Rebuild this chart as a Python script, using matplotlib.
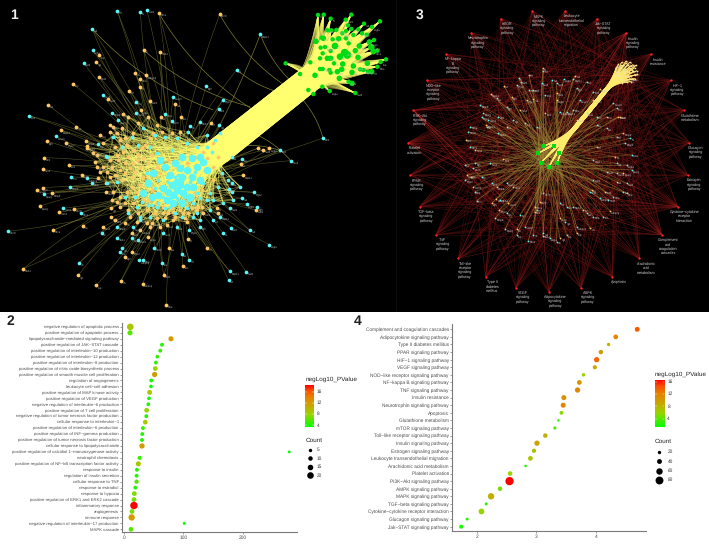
import numpy as np
import matplotlib
matplotlib.use("Agg")
import matplotlib.pyplot as plt
from matplotlib.collections import LineCollection
from matplotlib.colors import LinearSegmentedColormap

plt.rcParams['font.family'] = ['Liberation Sans', 'DejaVu Sans']
plt.rcParams['text.hinting'] = 'no_hinting'
W, H = 709, 549

# ---------------- Panel 2 data ----------------
bp_terms = ["negative regulation of apoptotic process", "positive regulation of apoptotic process",
 "lipopolysaccharide\u2212mediated signaling pathway", "positive regulation of JAK\u2212STAT cascade",
 "positive regulation of interleukin\u221210 production", "positive regulation of interleukin\u221212 production",
 "positive regulation of interleukin\u22128 production", "positive regulation of nitric oxide biosynthetic process",
 "positive regulation of smooth muscle cell proliferation", "regulation of angiogenesis",
 "leukocyte cell\u2212cell adhesion", "positive regulation of MAP kinase activity",
 "positive regulation of VEGF production", "negative regulation of interleukin\u22126 production",
 "positive regulation of T cell proliferation", "negative regulation of tumor necrosis factor production",
 "cellular response to interleukin\u22121", "positive regulation of interleukin\u22126 production",
 "positive regulation of INF\u2212gamma production", "positive regulation of tumor necrosis factor production",
 "cellular response to lipopolysaccharide", "positive regulation of calcidiol 1\u2212monooxygenase activity",
 "neutrophil chemotaxis", "positive regulation of NF\u2212kB transcription factor activity",
 "response to insulin", "regulation of insulin secretion", "cellular response to TNF", "response to estradiol",
 "response to hypoxia", "positive regulation of ERK1 and ERK2 cascade", "inflammatory response", "angiogenesis",
 "immune response", "negative regulation of interleukin\u221217 production", "MAPK cascade"]
bp_enrich = [10.1,9.6,78.9,63.7,60.8,55.8,53.5,52.4,51.3,45.6,45.1,42.8,41.7,40.6,37.7,37.2,35.5,31.5,30.4,29.9,
             29.9,278.9,25.9,23.7,21.4,20.8,20.8,18.6,16.9,16.3,16.3,13,12.4,101.4,11.3]
bp_count = [20,13,13,7,7,6,7,11,14,7,6,12,6,6,11,7,11,7,7,7,14,2,8,13,7,7,9,7,11,11,24,11,19,3,11]
bp_logp = [9,6,12,4.5,5,5,5,8,12,4.5,4,9,4,4,8,4.5,9,5,4.5,4.5,12,3.5,5,9,4.5,4.5,6,4.5,7,7,18.5,7,12,3.7,6]

# ---------------- Panel 4 data ----------------
kegg_terms = ["Complement and coagulation cascades","Adipocytokine signaling pathway","Type II diabetes mellitus",
 "PPAR signaling pathway","HIF\u22121 signaling pathway","VEGF signaling pathway","NOD\u2212like receptor signaling pathway",
 "NF\u2212kappa B signaling pathway","TNF signaling pathway","Insulin resistance","Neurotrophin signaling pathway",
 "Apoptosis","Glutathione metabolism","mTOR signaling pathway","Toll\u2212like receptor signaling pathway",
 "Insulin signaling pathway","Estrogen signaling pathway","Leukocyte transendothelial migration",
 "Arachidonic acid metabolism","Platelet activation","PI3K\u2212Akt signaling pathway","AMPK signaling pathway",
 "MAPK signaling pathway","TGF\u2212beta signaling pathway","Cytokine\u2212cytokine receptor interaction",
 "Glucagon signaling pathway","Jak\u2212STAT signaling pathway"]
kegg_enrich = [4.69,4.33,4.21,4.08,4.01,3.98,3.79,3.72,3.69,3.46,3.45,3.42,3.37,3.31,3.15,3.01,2.96,2.90,2.82,2.56,
               2.55,2.39,2.24,2.16,2.08,1.84,1.74]
kegg_count = [40,38,20,34,45,30,22,38,45,42,42,25,8,18,35,45,32,38,10,36,85,35,60,15,52,14,28]
kegg_logp = [14,12,8,10,13.5,9,6,11,12,11,12,5.5,3,4,8.5,9.5,7,7,2.5,6,17,5,8.5,3,6,2.5,2]

# ---------------- Networks: positions, in units of 1/3 pixel ----------------
net1_cyan_outer = [(352,34),(421,37),(441,31),(276,86),(278,151),(251,189),(781,103),(710,209),(618,258),(669,299),
 (656,328),(308,286),(87,347),(168,409),(214,530),(209,560),(132,583),(189,625),(242,640),(25,694),(305,700),(351,714),
 (367,745),(361,755),(236,790),(418,780),(430,781),(463,744),(487,788),(545,761),(568,781),(668,698),(692,683),(750,691),
 (808,734),(739,816),(689,813),(686,841),(772,622),(762,577),(969,414),(872,482),(839,451),(520,290),(408,306),(337,338),
 (355,360),(408,340),(495,343),(515,362),(570,378),(600,367),(657,375),(295,432),(318,467),(262,535),(275,550),(322,548),
 (725,478),(695,470),(683,540),(697,550),(686,568),(725,595),(740,612),(690,625),(660,650),(640,660),(600,680),(568,690),
 (530,680),(490,698),(420,660),(400,682),(385,640),(350,680),(395,715),(415,720)]
net1_orange_outer = [(477,40),(659,43),(431,150),(481,157),(289,186),(297,166),(406,219),(438,225),(419,238),(297,230),
 (220,253),(144,314),(388,273),(420,262),(450,303),(526,312),(422,330),(325,297),(183,391),(228,380),(142,424),(197,430),
 (132,473),(128,508),(207,496),(112,569),(128,563),(155,580),(120,618),(177,637),(160,691),(222,627),(249,677),(70,806),
 (235,826),(289,856),(363,843),(428,851),(499,914),(491,826),(548,797),(507,744),(622,743),(565,717),(768,630),(775,444),
 (808,445),(790,451),(730,525),(722,493),(375,770),(395,755),(345,660),(310,680),(370,343),(331,375),(300,405),(258,423),
 (262,438),(280,460),(290,500),(245,525),(293,535),(318,575),(333,625),(333,652),(375,668),(420,690),(455,670),(500,675),
 (543,352),(482,352),(632,368),(650,625),(610,640),(655,640),(445,712),(395,700),(350,605)]
net1_cyan_core = [(530,570),(540,555),(520,585),(550,580),(505,575),(545,530),(530,545),(515,555),(560,560),(570,590),
 (500,600),(520,610),(545,610),(490,565),(475,585),(510,525),(540,505),(560,510),(575,530),(590,500),(600,470),(575,475),
 (545,470),(525,490),(495,500),(480,480),(460,520),(445,550),(430,580),(455,590),(580,560),(600,540),(620,510),(610,485),
 (635,455),(620,440),(590,440),(560,430),(530,415),(495,410),(465,405),(430,385),(415,435),(395,410),(450,440),(515,450),
 (565,395),(620,405),(645,420),(660,400),(580,610),(600,595),(620,600),(560,625),(525,640),(495,625),(470,620),(445,615),
 (425,605),(405,590),(450,650),(490,660),(545,650),(590,640),(630,580),(655,560),(665,520),(695,575),(500,530),(475,540),
 (535,525),(555,590),(510,595),(530,595),(505,545),(585,515),(545,545),(525,530),(570,545),(490,590),(440,520),(470,460),
 (340,410),(365,440),(320,470),(350,545),(375,590),(535,600),(565,600),(510,620),(455,615),(465,565),(475,610),(590,580),
 (610,550),(640,600),(670,610),(410,620),(420,650),(580,650),(600,660),(630,630),(700,600),(720,560)]
net1_orange_core = [(385,470),(400,490),(370,455),(345,440),(330,480),(310,500),(360,510),(395,530),(420,500),(445,490),
 (415,465),(455,465),(435,435),(460,400),(485,395),(515,400),(340,380),(375,415),(310,430),(290,465),(285,485),(330,530),
 (365,540),(340,575),(380,575),(420,555),(430,530),(470,500),(400,610),(415,640),(440,630),(465,640),(490,640),(515,625),
 (540,630),(565,640),(595,620),(470,610),(455,570),(480,520),(505,480),(560,490),(585,470),(610,455),(640,500),(655,470),
 (640,540),(605,570),(585,580),(605,620),(520,660),(480,680),(440,670),(560,665),(385,630),(360,620),(385,350),(415,370),
 (445,350),(470,375),(540,395),(365,385),(400,400),(300,515),(260,445),(318,550),(355,480),(450,415),(640,430),(620,475),
 (375,490),(390,505),(410,480),(430,475),(350,465),(335,500),(320,515),(345,525),(375,520),(405,515),(425,445),(400,450),
 (380,435),(360,420),(330,395),(350,400),(395,560),(410,575),(360,590),(335,600),(375,610),(430,600),(445,600),(505,640),
 (525,650),(550,640),(575,625),(470,655),(495,655),(450,680),(410,665),(390,650),(490,620),(520,635),(590,630),(555,655)]
net1_green = [(84,45),(101,44),(122,56),(184,44),(167,59),(174,76),(222,71),(270,64),(246,81),(205,88),(112,91),(124,91),
 (139,90),(168,93),(184,87),(230,104),(157,100),(190,105),(216,100),(78,124),(95,113),(100,115),(128,118),(146,116),
 (168,115),(252,120),(238,126),(176,130),(135,138),(92,143),(105,141),(122,153),(208,138),(196,152),(244,142),(262,152),
 (250,155),(98,160),(164,158),(172,165),(150,170),(90,175),(112,175),(122,175),(204,172),(288,178),(272,186),(61,187),
 (132,190),(158,192),(190,198),(232,190),(262,200),(90,207),(98,207),(118,210),(142,215),(155,208),(186,217),(210,208),
 (245,215),(30,222),(75,226),(148,235),(176,245),(186,250),(97,260),(55,270),(119,273),(70,282),(196,279),(122,218),
 (220,210),(234,216),(-13,190)]
net1_green_size = [4,4,4,4,4,4,4,4,4,4,4,4,4,4,4,4,4,4,4,5,4,5,4,5,4,4,5,4,6,4,4,4,5,5,6,4,5,4,7,7,6,4,5,5,5,4,4,4,4,5,5,5,4,4,4,4,5,5,5,4,5,4,5,5,4,5,4,4,4,4,4,4,4,4,4]

net3_pathways = ["MAPK\nsignaling\npathway","Leukocyte\ntransendothelial\nmigration","Jak\u2212STAT\nsignaling\npathway",
 "Insulin\nsignaling\npathway","Insulin\nresistance","HIF\u22121\nsignaling\npathway","Glutathione\nmetabolism",
 "Glucagon\nsignaling\npathway","Estrogen\nsignaling\npathway","Cytokine\u2212cytokine\nreceptor\ninteraction",
 "Complement\nand\ncoagulation\ncascades","Arachidonic\nacid\nmetabolism","Apoptosis","AMPK\nsignaling\npathway",
 "Adipocytokine\nsignaling\npathway","VEGF\nsignaling\npathway","Type II\ndiabetes\nmellitus",
 "Toll\u2212like\nreceptor\nsignaling\npathway","TNF\nsignaling\npathway","TGF\u2212beta\nsignaling\npathway",
 "PPAR\nsignaling\npathway","Platelet\nactivation","PI3K\u2212Akt\nsignaling\npathway",
 "NOD\u2212like\nreceptor\nsignaling\npathway","NF\u2212kappa\nB\nsignaling\npathway","Neurotrophin\nsignaling\npathway",
 "mTOR\nsignaling\npathway"]
net3_path_pos = [(517,33),(615,33),(711,56),(798,99),(873,162),(932,241),(971,331),(988,428),(983,525),(953,620),(905,704),
 (838,775),(756,830),(663,863),(566,875),(468,863),(377,830),(295,775),(228,704),(179,620),(151,525),(144,428),(160,331),
 (200,241),(259,162),(334,99),(422,56)]
net3_green = [(552,438),(581,438),(535,460),(598,460),(543,488),(592,488),(567,500)]
net3_cyan = [(550,213),(476,235),(483,245),(576,240),(612,238),(590,250),(640,236),(680,245),(650,265),(470,255),(520,270),
 (545,250),(700,275),(760,310),(770,325),(360,315),(370,340),(385,360),(330,380),(325,395),(380,380),(415,400),(460,360),
 (495,370),(530,380),(600,335),(640,330),(680,340),(710,375),(740,385),(770,410),(810,415),(815,465),(770,490),(800,495),
 (740,515),(700,480),(315,495),(345,490),(315,540),(345,575),(390,490),(395,550),(440,550),(350,602),(405,655),(435,688),
 (495,680),(505,722),(550,580),(600,610),(640,620),(615,665),(620,705),(590,725),(720,595),(760,590),(690,575),(730,650),
 (680,640),(530,630),(480,645),(700,540),(550,700),(570,715),(800,550),(620,335),(410,295),(440,320),(365,352),(415,350),
 (508,270),(555,285),(660,300),(710,350),(795,430),(815,510),(770,520),(330,440),(340,505),(365,530),(420,600),(440,640),
 (470,705),(520,705),(650,680),(700,650),(745,600),(790,575),(620,620)]
net3_orange = [(507,225),(548,205),(590,280),(645,228),(720,268),(780,350),(392,282),(432,258),(455,292),(500,300),(318,420),
 (345,450),(430,478),(320,525),(332,530),(410,562),(408,597),(445,610),(525,620),(540,605),(470,688),(548,707),(600,713),
 (650,700),(690,685),(750,632),(800,580),(735,575),(695,570),(770,545),(710,440),(765,470),(775,350),(520,298),(590,300),
 (650,360),(378,375),(440,380),(395,610),(418,630),(525,635),(480,330),(555,340),(700,300),(740,350),(790,400),(790,520),
 (340,560),(460,560),(600,655),(670,630)]
net3_hub = [(798,183),(785,186),(810,186),(775,193),(790,195),(803,196),(818,194),(768,203),(782,205),(796,207),(810,205),
 (824,203),(765,214),(778,216),(792,218),(806,216),(820,214),(830,212),(770,225),(784,228),(798,229),(812,227),(826,224),
 (778,238),(792,240),(806,238),(820,236),(800,246),(814,245),(786,248),(772,198),(828,196),(762,222),(832,222),(772,236),
 (826,236),(797,190),(784,196),(812,197),(778,210),(788,212),(802,212),(815,210),(790,224),(805,224),(796,235),(812,236)]
gene_names = ["Tnf","Il6","Akt1","Il1b","Vegfa","Stat3","Mapk1","Jun","Egfr","Ptgs2","Ccl2","Nos3","Bcl2","Casp3","Tlr4",
 "Mmp9","Pparg","Icam1","Hif1a","Cxcl8","Src","Nfkb1","Igf1","Lep","Ins","Adipoq","Rela","Sod2","Fos","Cat"]

# ---------------- helpers ----------------
def ax_px(left, top, right, bottom):
    return fig.add_axes([left/W, 1-bottom/H, (right-left)/W, (bottom-top)/H])

def bez(p0, c, p1, n=12):
    t = np.linspace(0, 1, n)[:, None]
    p0, c, p1 = map(np.asarray, (p0, c, p1))
    return (1-t)**2*p0 + 2*t*(1-t)*c + t**2*p1

def curve(p0, p1, bend=0.12, n=12):
    p0 = np.asarray(p0, float); p1 = np.asarray(p1, float)
    d = p1-p0
    return bez(p0, (p0+p1)/2 + bend*np.array([-d[1], d[0]]), p1, n)

def labels(ax, pts, names, fs=1.9, dx=5, dy=7, color='#b5b5b5'):
    for i, (x, y) in enumerate(pts):
        ax.text(x+dx, y+dy, names[i % len(names)], fontsize=fs, color=color, ha='left', va='center', zorder=6)

fig = plt.figure(figsize=(W/100, H/100), dpi=100, facecolor='white')

# ---------------- black network canvas (panels 1, 3) ----------------
net = ax_px(0, 0, W, 312)
net.set_xlim(0, W*3); net.set_ylim(312*3, 0); net.axis('off')
net.add_patch(plt.Rectangle((0, 0), W*3, 312*3, color='black', zorder=0))
net.plot([1188, 1188], [0, 936], color='#151515', lw=0.5, zorder=1)

# panel 1
c1 = np.array(net1_cyan_outer + net1_cyan_core, float)
o1 = np.array(net1_orange_outer + net1_orange_core, float)
g1 = np.array(net1_green, float) + np.array([870, 0])
cyan_core = np.array(net1_cyan_core, float)
orange_core = np.array(net1_orange_core, float)
core = np.vstack([cyan_core, orange_core])
outer = np.array(net1_cyan_outer + net1_orange_outer, float)

thin = []
for i, p in enumerate(outer):
    thin.append(curve(p, (530+(i % 7)*12-36, 550+(i % 5)*14-28), bend=0.05*(1 if i % 2 else -1)))
    if i % 3 == 0:
        thin.append(curve(p, (470+(i % 9)*16, 490+(i % 11)*10), bend=-0.04))
net.add_collection(LineCollection(thin, colors='#8a8a38', linewidths=0.4, alpha=0.6, zorder=2))

stray = [((781,103),(880,250)),((659,43),(860,260)),((477,40),(760,330)),((431,150),(750,320)),((710,209),(850,280)),
         ((969,414),(900,290)),((872,482),(760,400)),((839,451),(700,440)),((276,86),(640,330))]
net.add_collection(LineCollection([curve(a, b, 0.12, 20) for a, b in stray], colors='#7d7d30', linewidths=0.5, zorder=2))

inner = []
for i, p in enumerate(core):
    inner.append(curve(p, core[(i*17+5) % len(core)], 0.05))
    inner.append(curve(p, core[(i*29+11) % len(core)], -0.05))
net.add_collection(LineCollection(inner, colors='#ffff80', linewidths=0.45, alpha=0.5, zorder=2))

# bundle of edges from the core through the band to the green fan
u = np.array([270., -220.]); u /= np.linalg.norm(u)
v = np.array([0.63, 0.78])
band = []
def bundle(p, i, k):
    f = ((i*0.618 + k*0.381) % 1)*2-1
    A = np.array([660., 450.]) + v*f*40
    B = np.array([925., 240.]) + v*f*38
    g = g1[(i*7+k*23) % len(g1)]
    return np.vstack([bez(p, A - u*40, A, 8), np.array([A, B]), bez(B, B + u*25, g, 10)])
for i, p in enumerate(cyan_core):
    for k in range(3):
        band.append(bundle(p, i, k))
for i, p in enumerate(orange_core):
    band.append(bundle(p, i+100, 0))
net.add_collection(LineCollection(band, colors='#ffff70', linewidths=0.45, alpha=0.5, zorder=3))
fan = []
for i, g in enumerate(g1):
    for k in range(14):
        f = ((i*0.618 + k*0.381) % 1)*2-1
        B = np.array([925., 240.]) + v*f*38
        fan.append(bez(B, B + u*25, g, 10))
net.add_collection(LineCollection(fan, colors='#ffff70', linewidths=0.5, alpha=0.55, zorder=3))
net.add_collection(LineCollection([np.array([np.array([655.,455.])+v*f*38, np.array([925.,240.])+v*f*36]) for f in np.linspace(-1,1,25)],
                                  colors='#ffff70', linewidths=1.2, zorder=3))

net.scatter(o1[:,0], o1[:,1], s=7.5, c='#ffc766', linewidths=0, zorder=4)
net.scatter(c1[:,0], c1[:,1], s=7, c='#5cf6f6', linewidths=0, zorder=5)
blob = np.array(net1_cyan_core[:34], float)
net.scatter(blob[:,0], blob[:,1], s=30, c='#5cf6f6', linewidths=0, zorder=5)
net.scatter(g1[:,0], g1[:,1], s=(np.array(net1_green_size)*0.8)**2, c='#00dc14', linewidths=0, zorder=5)
labels(net, outer, gene_names)
labels(net, g1[::2], gene_names, dx=6, dy=7)

# panel 3 (coordinates in the crop begin at x = 1080)
off = np.array([1080., 0.])
rp = np.array(net3_path_pos, float) + off
g3 = np.array(net3_green, float) + off
cy3 = np.array(net3_cyan, float) + off
or3 = np.array(net3_orange, float) + off
hub = np.array(net3_hub, float) + off
mid = np.vstack([cy3, or3])

red = []
for i, r in enumerate(rp):
    for j in range(18):
        red.append([r, mid[(i*13 + j*19) % len(mid)]])
    for j in range(4):
        red.append([r, hub[(i*3+j*7) % len(hub)]])
    red.append([r, rp[(i+11) % len(rp)]])
net.add_collection(LineCollection(red, colors='#701414', linewidths=0.3, alpha=0.65, zorder=2))
fans = []
for i in (9, 10, 22, 21, 3):
    for j in range(8):
        fans.append([rp[i], mid[(i*5+j*23) % len(mid)]])
net.add_collection(LineCollection(fans, colors='#b02020', linewidths=0.3, alpha=0.65, zorder=2))

oli = []
for i, m in enumerate(mid):
    oli.append([m, g3[i % 7]])
    oli.append([m, g3[(i*3+2) % 7]])
net.add_collection(LineCollection(oli, colors='#a08a38', linewidths=0.35, alpha=0.55, zorder=3))

yel = []
for i, h in enumerate(hub):
    for k in range(7):
        f = ((i*0.618 + k*0.27) % 1)*2-1
        A = np.array([1080+740., 268.]) + np.array([0.7, 0.7])*f*6
        B = np.array([1080+640., 390.]) + np.array([0.7, 0.7])*f*6
        yel.append(np.vstack([bez(h, A+np.array([15,-20]), A, 8), np.array([A, B]), bez(B, B+np.array([-25,25]), g3[k], 8)]))
net.add_collection(LineCollection(yel, colors='#ffee70', linewidths=0.3, alpha=0.6, zorder=3))

net.scatter(or3[:,0], or3[:,1], s=1.6, c='#ffc766', linewidths=0, zorder=4)
net.scatter(cy3[:,0], cy3[:,1], s=1.6, c='#5cf6f6', linewidths=0, zorder=4)
net.scatter(hub[:,0], hub[:,1], s=1.6, c='#ffdf90', linewidths=0, zorder=4)
net.scatter(rp[:,0], rp[:,1], s=3, c='#ff2222', linewidths=0, zorder=5)
net.scatter(g3[:,0], g3[:,1], s=9, c='#00dc14', marker='s', linewidths=0, zorder=5)
labels(net, mid, gene_names, fs=1.9, dx=4, dy=5, color='#c8c8c8')
labels(net, hub[::2], gene_names, fs=1.4, dx=3, dy=3, color='#e8e8e8')
for p, name in zip(rp, net3_pathways):
    net.text(p[0]+20, p[1]+11, name, fontsize=2.6, color='#d0d0d0', ha='center', va='top', linespacing=1.2, zorder=6)

# ---------------- dot plots ----------------
cmap = LinearSegmentedColormap.from_list('gr', [(0,'#00ff00'),(0.3,'#9ad400'),(0.5,'#c8a800'),(0.72,'#e88000'),(0.88,'#f84c00'),(1,'#ff0000')])
d2 = lambda c: 2.4+0.21*c
d4 = lambda c: 1.9+0.075*c

def dotplot(box, xlim, ylim, xticks, terms, enrich, count, logp, vrange, dfun, fs):
    ax = ax_px(*box)
    y = np.arange(len(terms))[::-1]
    d = np.array([dfun(c) for c in count])
    ax.scatter(enrich, y, s=(d*0.72)**2, c=logp, cmap=cmap, vmin=vrange[0], vmax=vrange[1], linewidths=0, zorder=3)
    ax.set_xlim(*xlim); ax.set_ylim(*ylim)
    ax.set_yticks(y); ax.set_yticklabels(terms, fontsize=fs, color='#4d4d4d')
    ax.set_xticks(xticks); ax.set_xticklabels(xticks, fontsize=3.5, color='#4d4d4d')
    for s in ('top','right'):
        ax.spines[s].set_visible(False)
    for s in ('left','bottom'):
        ax.spines[s].set_color('#7a7a7a'); ax.spines[s].set_linewidth(0.8)
    ax.tick_params(length=1.3, width=0.4, color='#555555', pad=1)
    return ax

n2 = len(bp_terms)
dotplot((122, 323.3, 297, 532), (-3.9, 292), (-0.45, n2-1+0.6), [0,100,200], bp_terms, bp_enrich, bp_count, bp_logp, (3.5,18.5), d2, 3.1)
n4 = len(kegg_terms)
dotplot((452, 324, 646, 530.7), (1.586, 4.837), (-0.53, n4-1+0.7), [2,3,4], kegg_terms, kegg_enrich, kegg_count, kegg_logp, (1.4,16.6), d4, 3.4)

def legend(x, title_y, bar, ticks, vrange, cnt_title_y, cnt_y, cnt_vals, dfun, cnt_x, lab_x):
    la = fig.add_axes([0, 0, 1, 1], facecolor='none'); la.axis('off')
    la.set_xlim(0, W); la.set_ylim(H, 0)
    la.text(x, title_y, 'negLog10_PValue', fontsize=4.6, color='#222222', va='center')
    grad = np.linspace(1, 0, 256)[:, None]
    la.imshow(grad, extent=(bar[0], bar[1], bar[3], bar[2]), cmap=cmap, vmin=0, vmax=1, aspect='auto', zorder=2)
    la.set_xlim(0, W); la.set_ylim(H, 0)
    for t in ticks:
        yy = bar[3] - (t-vrange[0])/(vrange[1]-vrange[0])*(bar[3]-bar[2])
        la.text(bar[1]+3, yy, str(t), fontsize=3.4, color='#333333', va='center')
        la.plot([bar[0], bar[0]+1.5], [yy, yy], color='white', lw=0.3, zorder=3)
        la.plot([bar[1]-1.5, bar[1]], [yy, yy], color='white', lw=0.3, zorder=3)
    la.text(x, cnt_title_y, 'Count', fontsize=4.6, color='#222222', va='center')
    for yy, c in zip(cnt_y, cnt_vals):
        la.scatter([cnt_x], [yy], s=(dfun(c)*0.72)**2, c='black', linewidths=0)
        la.text(lab_x, yy, str(c), fontsize=3.4, color='#333333', va='center')
    return la

la2 = legend(305.3, 379, (305.3, 313.7, 384.7, 426.7), [4,8,12,16], (3.5,18.5), 440.3, [450,458.3,467,475.3], [5,10,15,20], d2, 309.7, 316.7)
la4 = legend(655, 374.3, (655, 664.3, 380, 426.7), [4,8,12,16], (1.4,16.6), 441.3, [452,461.3,470.7,480], [20,40,60,80], d4, 659.3, 667.7)

# panel numbers
la2.text(10, 321, '2', fontsize=10, fontweight='bold', color='#222222', ha='center', va='center')
la2.text(357.5, 321, '4', fontsize=10, fontweight='bold', color='#222222', ha='center', va='center')
la2.text(14, 15, '1', fontsize=10, fontweight='bold', color='#eeeeee', ha='center', va='center')
la2.text(420, 15, '3', fontsize=10, fontweight='bold', color='#eeeeee', ha='center', va='center')

fig.savefig('out.png', dpi=100, facecolor='white')
